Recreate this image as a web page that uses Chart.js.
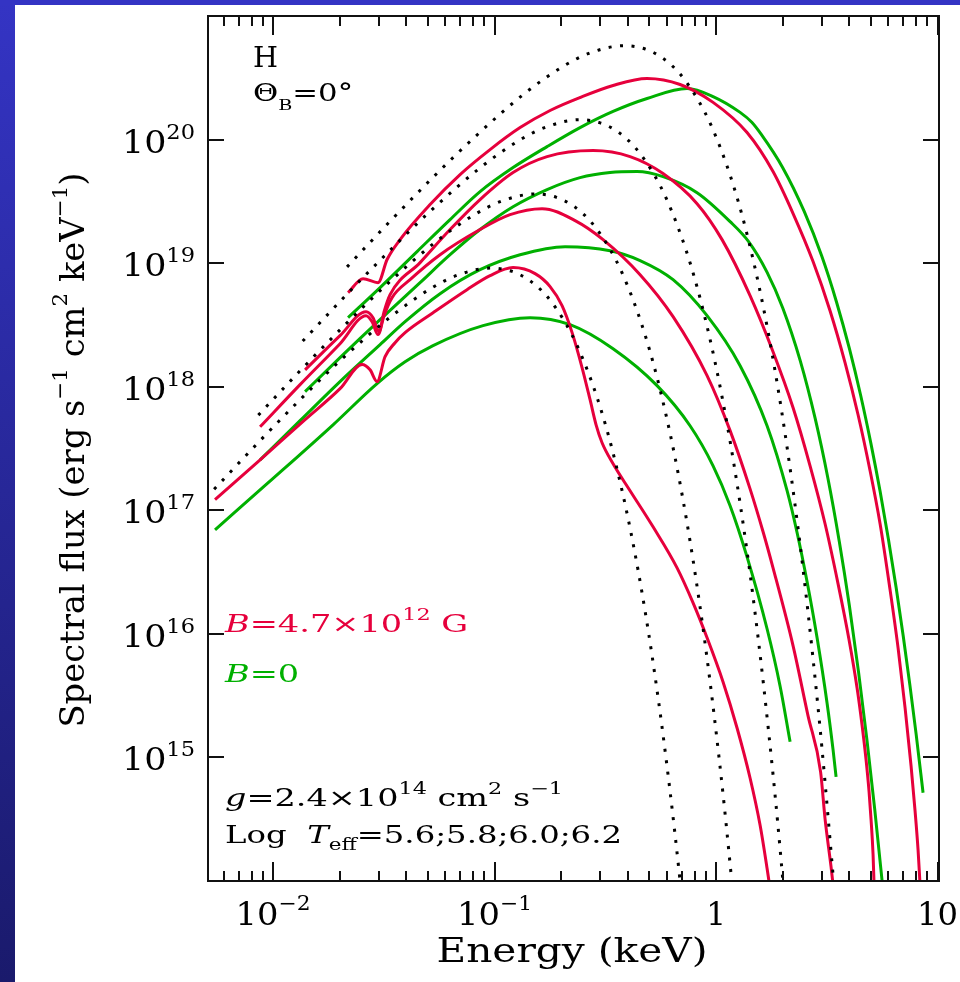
<!DOCTYPE html>
<html><head><meta charset="utf-8">
<script src="https://cdn.jsdelivr.net/npm/chart.js@4/dist/chart.umd.min.js"></script>
<style>html,body{margin:0;padding:0;background:#fff;overflow:hidden}canvas{display:block}</style>
</head><body>
<canvas id="c" width="960" height="982" style="width:960px;height:982px"></canvas>
<script>
// ---- axis ranges and ticks ----
const X_MIN = 0.005085, X_MAX = 10.15, Y_MIN = 1e14, Y_MAX = 1e21;
const xMajorTicks = [0.01, 0.1, 1, 10];
const xTickBase = ['10', '10', '1', '10'];
const xTickExp = ['\u22122', '\u22121', '', ''];
const xMinorTicks = [0.006, 0.007, 0.008, 0.009, 0.02, 0.03, 0.04, 0.05, 0.06, 0.07, 0.08, 0.09,
  0.2, 0.3, 0.4, 0.5, 0.6, 0.7, 0.8, 0.9, 2, 3, 4, 5, 6, 7, 8, 9];
const yMajorTicks = [1e15, 1e16, 1e17, 1e18, 1e19, 1e20];
const yTickBase = ['10', '10', '10', '10', '10', '10'];
const yTickExp = ['15', '16', '17', '18', '19', '20'];

// ---- blackbody (dotted), log Teff = 5.6, 5.8, 6.0, 6.2 ----
const bb56E = [0.00542, 0.00857, 0.01371, 0.02057, 0.03428, 0.05142, 0.06856, 0.09667, 0.1200, 0.1440, 0.1714, 0.2057, 0.2400, 0.2914, 0.3428, 0.4114, 0.4799, 0.5485, 0.6170, 0.6856, 0.7542];
const bb56F = [1.48e17, 3.53e17, 8.36e17, 1.69e18, 3.73e18, 6.22e18, 8.04e18, 9.12e18, 8.57e18, 7.24e18, 5.45e18, 3.44e18, 2.01e18, 8.02e17, 2.91e17, 6.81e16, 1.47e16, 2.96e15, 5.70e14, 1.06e14, 1.91e13];
const bb58E = [0.00858, 0.01358, 0.02173, 0.0326, 0.05433, 0.0815, 0.1087, 0.1532, 0.1902, 0.2282, 0.2717, 0.326, 0.3803, 0.4618, 0.5433, 0.652, 0.7606, 0.8693, 0.978, 1.0866, 1.195];
const bb58F = [5.89e17, 1.41e18, 3.33e18, 6.71e18, 1.49e19, 2.48e19, 3.20e19, 3.63e19, 3.41e19, 2.88e19, 2.17e19, 1.37e19, 8.00e18, 3.19e18, 1.16e18, 2.71e17, 5.83e16, 1.18e16, 2.27e15, 4.22e14, 7.59e13];
const bb60E = [0.01361, 0.02154, 0.03447, 0.0517, 0.08617, 0.1293, 0.1723, 0.2430, 0.3016, 0.3619, 0.4309, 0.517, 0.6032, 0.7324, 0.8617, 1.034, 1.206, 1.379, 1.551, 1.723, 1.896, 2.154];
const bb60F = [2.34e18, 5.60e18, 1.32e19, 2.67e19, 5.92e19, 9.86e19, 1.27e20, 1.45e20, 1.36e20, 1.15e20, 8.63e19, 5.46e19, 3.18e19, 1.27e19, 4.61e18, 1.08e18, 2.32e17, 4.69e16, 9.04e15, 1.68e15, 3.02e14, 2.21e13];
const bb62E = [0.02158, 0.03414, 0.05463, 0.08194, 0.1366, 0.2049, 0.2731, 0.3851, 0.478, 0.5736, 0.6829, 0.8194, 0.956, 1.161, 1.366, 1.639, 1.912, 2.185, 2.458, 2.731, 3.005, 3.414];
const bb62F = [9.33e18, 2.23e19, 5.27e19, 1.06e20, 2.36e20, 3.93e20, 5.07e20, 5.75e20, 5.41e20, 4.57e20, 3.44e20, 2.17e20, 1.27e20, 5.06e19, 1.84e19, 4.30e18, 9.25e17, 1.87e17, 3.60e16, 6.68e15, 1.20e15, 8.79e13];

// ---- B = 4.7e12 G (red) ----
const r56E = [0.00547, 0.00874, 0.01395, 0.02006, 0.02522, 0.02741, 0.02948, 0.03204, 0.03555, 0.03945, 0.05277, 0.0751, 0.09544, 0.1212, 0.1524, 0.1781, 0.2017, 0.2239, 0.2483, 0.2699, 0.2873, 0.3057, 0.3428, 0.409, 0.5194, 0.6667, 0.7875, 0.9107, 1.0755, 1.244, 1.424, 1.580, 1.699, 1.735];
const r56F = [1.22e17, 2.56e17, 5.41e17, 9.64e17, 1.51e18, 1.37e18, 1.10e18, 1.75e18, 2.27e18, 2.74e18, 3.97e18, 6.10e18, 7.92e18, 9.20e18, 8.22e18, 6.46e18, 4.53e18, 2.74e18, 1.43e18, 7.85e17, 4.92e17, 3.52e17, 2.38e17, 1.44e17, 7.35e16, 3.42e16, 1.78e16, 9.29e15, 4.08e15, 1.73e15, 6.82e14, 2.84e14, 1.27e14, 9.82e13];
const r58E = [0.00874, 0.01324, 0.02006, 0.02629, 0.02799, 0.02979, 0.03171, 0.03445, 0.04155, 0.05675, 0.08601, 0.1175, 0.1639, 0.2310, 0.3089, 0.4539, 0.6396, 0.9107, 1.157, 1.424, 1.630, 1.808, 2.227, 2.602, 2.964, 3.105, 3.305, 3.375];
const r58F = [4.74e17, 1.04e18, 2.23e18, 3.76e18, 3.36e18, 2.64e18, 3.76e18, 5.26e18, 7.35e18, 1.17e19, 1.87e19, 2.47e19, 2.76e19, 2.21e19, 1.55e19, 8.07e18, 3.69e18, 1.23e18, 4.41e17, 1.49e17, 6.70e16, 3.42e16, 8.00e15, 2.17e15, 7.64e14, 3.18e14, 1.30e14, 9.29e13];
const r60E = [0.01395, 0.02006, 0.02629, 0.02828, 0.0301, 0.03171, 0.03375, 0.0461, 0.06297, 0.08601, 0.1212, 0.1726, 0.2785, 0.409, 0.5763, 0.8208, 1.0644, 1.424, 1.808, 2.227, 2.657, 3.105, 3.555, 3.986, 4.330, 4.561, 4.756, 4.907, 5.010, 5.115, 5.168];
const r60F = [1.37e18, 2.59e18, 4.05e18, 3.62e18, 2.79e18, 4.05e18, 5.56e18, 1.01e19, 1.87e19, 3.27e19, 5.41e19, 7.28e19, 8.15e19, 7.28e19, 5.31e19, 3.03e19, 1.55e19, 5.46e18, 1.92e18, 6.76e17, 2.29e17, 7.78e16, 2.54e16, 8.93e15, 3.66e15, 1.83e15, 9.55e14, 5.26e14, 3.12e14, 1.63e14, 9.29e13];
const r62E = [0.02181, 0.02548, 0.02979, 0.03272, 0.03745, 0.05115, 0.06986, 0.09544, 0.1304, 0.1781, 0.2432, 0.3428, 0.4882, 0.6879, 0.9694, 1.380, 1.808, 2.227, 2.741, 3.270, 3.824, 4.376, 4.958, 5.501, 6.104, 6.633, 7.134, 7.592, 7.914, 8.166, 8.337];
const r62F = [5.77e18, 7.48e18, 6.95e18, 1.07e19, 1.55e19, 2.98e19, 5.21e19, 8.30e19, 1.25e20, 1.72e20, 2.19e20, 2.74e20, 3.12e20, 2.79e20, 2.00e20, 1.14e20, 5.51e19, 2.52e19, 1.03e19, 4.12e18, 1.56e18, 5.93e17, 2.09e17, 7.78e16, 2.27e16, 7.71e15, 2.52e15, 8.53e14, 3.69e14, 1.78e14, 9.29e13];

// ---- B = 0 (green) ----
const g56E = [0.00547, 0.0094, 0.01866, 0.02948, 0.03945, 0.05277, 0.0887, 0.1447, 0.2193, 0.3428, 0.5416, 0.763, 0.9694, 1.157, 1.38, 1.699, 1.945, 2.159];
const g56F = [6.95e16, 1.64e17, 4.92e17, 1.06e18, 1.59e18, 2.15e18, 3.12e18, 3.62e18, 3.18e18, 2.03e18, 1.02e18, 4.83e17, 2.29e17, 1.09e17, 4.20e16, 1.10e16, 3.79e15, 1.34e15];
const g58E = [0.00874, 0.01324, 0.02006, 0.03042, 0.03945, 0.05675, 0.08601, 0.1304, 0.2081, 0.3322, 0.4539, 0.6396, 0.9107, 1.284, 1.699, 2.092, 2.322, 2.576, 2.858, 3.170, 3.375, 3.482];
const g58F = [2.56e17, 5.31e17, 1.10e18, 2.19e18, 3.36e18, 5.66e18, 8.85e18, 1.17e19, 1.36e19, 1.26e19, 1.05e19, 7.35e18, 3.76e18, 1.48e18, 4.83e17, 1.44e17, 6.58e16, 2.64e16, 9.29e15, 2.76e15, 1.15e15, 6.95e14];
const g60E = [0.01395, 0.02006, 0.03042, 0.0461, 0.06297, 0.08601, 0.1212, 0.1726, 0.2432, 0.3322, 0.4398, 0.5763, 0.8208, 1.157, 1.4, 1.7, 2.0, 2.4, 2.8, 3.2, 3.6, 4.0, 4.4, 4.8, 5.2, 5.6, 5.8];
const g60F = [9.12e17, 1.72e18, 3.49e18, 6.95e18, 1.17e19, 1.87e19, 2.86e19, 3.94e19, 4.92e19, 5.41e19, 5.51e19, 5.01e19, 3.72e19, 2.17e19, 1.50e19, 8.43e18, 4.34e18, 1.62e18, 5.57e17, 1.81e17, 5.60e16, 1.68e16, 4.88e15, 1.38e15, 3.85e14, 1.06e14, 5.48e13];
const g62E = [0.02181, 0.03042, 0.04468, 0.06297, 0.08601, 0.1212, 0.1726, 0.2432, 0.3428, 0.4882, 0.7397, 0.9694, 1.284, 1.45, 1.6, 2.0, 2.5, 3.0, 3.5, 4.0, 4.5, 5.0, 5.5, 6.0, 6.5, 7.0, 7.5, 8.0, 8.6];
const g62F = [3.62e18, 6.34e18, 1.24e19, 2.25e19, 3.79e19, 5.93e19, 8.77e19, 1.25e20, 1.69e20, 2.15e20, 2.59e20, 2.23e20, 1.66e20, 1.38e20, 1.10e20, 5.92e19, 2.62e19, 1.14e19, 4.83e18, 2.03e18, 8.45e17, 3.48e17, 1.43e17, 5.82e16, 2.37e16, 9.55e15, 3.85e15, 1.55e15, 5.18e14];

const RED = '#e6003c', GREEN = '#00b000', BLACK = '#000000';
const SERIF = '"DejaVu Serif", "Liberation Serif", serif';
function F(size, style) { return (style ? style + ' ' : '') + size + 'px ' + SERIF; }

function mk(E, Fl, color, dotted, order) {
  return {
    data: E.map((e, i) => ({ x: e, y: Fl[i] })),
    borderColor: color, backgroundColor: color,
    borderWidth: 3, borderDash: dotted ? [3, 8.5] : [],
    fill: false, order: order, clip: 0,
    pointRadius: 0, cubicInterpolationMode: 'monotone'
  };
}

const datasets = [
  mk(g56E, g56F, GREEN, false, 3), mk(g58E, g58F, GREEN, false, 3),
  mk(g60E, g60F, GREEN, false, 3), mk(g62E, g62F, GREEN, false, 3),
  mk(r56E, r56F, RED, false, 2), mk(r58E, r58F, RED, false, 2),
  mk(r60E, r60F, RED, false, 2), mk(r62E, r62F, RED, false, 2),
  mk(bb56E, bb56F, BLACK, true, 1), mk(bb58E, bb58F, BLACK, true, 1),
  mk(bb60E, bb60F, BLACK, true, 1), mk(bb62E, bb62F, BLACK, true, 1)
];

// rich text helper: segments drawn in sequence, optionally stretched to a target width
function rich(ctx, segs, x, y, align, targetW, rot) {
  let total = 0;
  segs.forEach(s => { ctx.font = s.f; s.w = ctx.measureText(s.t).width; total += s.w; });
  let sx = targetW ? Math.min(1.4, Math.max(0.8, targetW / total)) : 1;
  ctx.save();
  ctx.translate(x, y);
  if (rot) ctx.rotate(rot);
  ctx.scale(sx, 1);
  ctx.textAlign = 'left'; ctx.textBaseline = 'alphabetic';
  let cx = align === 'center' ? -total / 2 : (align === 'right' ? -total : 0);
  segs.forEach(s => {
    ctx.font = s.f; ctx.fillStyle = s.c || '#000';
    ctx.fillText(s.t, cx, s.dy || 0);
    cx += s.w;
  });
  ctx.restore();
}

const framePlugin = {
  id: 'framePlugin',
  beforeDraw(chart) {
    const ctx = chart.ctx, W = chart.width, H = chart.height;
    ctx.save();
    ctx.fillStyle = '#ffffff'; ctx.fillRect(0, 0, W, H);
    const g = ctx.createLinearGradient(0, 0, 0, H);
    g.addColorStop(0, '#3434c4'); g.addColorStop(1, '#1a1a6c');
    ctx.fillStyle = g; ctx.fillRect(0, 0, 15, H);
    ctx.fillStyle = '#3434c4'; ctx.fillRect(0, 0, W, 5);
    ctx.restore();
  },
  afterDatasetsDraw(chart) {
    const ctx = chart.ctx, a = chart.chartArea;
    const xs = chart.scales.x, ys = chart.scales.y;
    ctx.save();
    ctx.strokeStyle = '#111'; ctx.lineWidth = 2;
    ctx.strokeRect(a.left, a.top, a.right - a.left, a.bottom - a.top);
    ctx.beginPath();
    xMajorTicks.forEach(v => {
      const p = Math.round(xs.getPixelForValue(v));
      ctx.moveTo(p, a.top); ctx.lineTo(p, a.top + 19);
      ctx.moveTo(p, a.bottom); ctx.lineTo(p, a.bottom - 19);
    });
    xMinorTicks.forEach(v => {
      const p = Math.round(xs.getPixelForValue(v));
      ctx.moveTo(p, a.top); ctx.lineTo(p, a.top + 10);
      ctx.moveTo(p, a.bottom); ctx.lineTo(p, a.bottom - 10);
    });
    yMajorTicks.forEach(v => {
      const p = Math.round(ys.getPixelForValue(v));
      ctx.moveTo(a.left, p); ctx.lineTo(a.left + 16, p);
      ctx.moveTo(a.right, p); ctx.lineTo(a.right - 16, p);
    });
    ctx.stroke();

    // y tick labels
    yMajorTicks.forEach((v, i) => {
      const p = ys.getPixelForValue(v);
      rich(ctx, [{ t: yTickBase[i], f: F(31) }, { t: yTickExp[i], f: F(20), dy: -14 }], 195, p + 13, 'right', 73);
    });
    // x tick labels
    xMajorTicks.forEach((v, i) => {
      const p = xs.getPixelForValue(v);
      const segs = [{ t: xTickBase[i], f: F(31) }];
      if (xTickExp[i]) segs.push({ t: xTickExp[i], f: F(20), dy: -15 });
      rich(ctx, segs, p, 925, 'center', xTickExp[i] ? 75 : (xTickBase[i].length > 1 ? 41 : 0));
    });
    // axis titles
    rich(ctx, [{ t: 'Energy (keV)', f: F(33) }], 572, 962, 'center', 271);
    rich(ctx, [
      { t: 'Spectral flux (erg s', f: F(33) }, { t: '\u22121', f: F(21), dy: -17 },
      { t: ' cm', f: F(33) }, { t: '2', f: F(21), dy: -17 },
      { t: ' keV', f: F(33) }, { t: '\u22121', f: F(21), dy: -17 },
      { t: ')', f: F(33) }
    ], 84, 450, 'center', 555, -Math.PI / 2);

    // annotations
    rich(ctx, [{ t: 'H', f: F(27) }], 253, 67, 'left', 25);
    rich(ctx, [{ t: '\u0398', f: F(24) }, { t: 'B', f: F(15), dy: 9 }, { t: '=0\u00B0', f: F(24) }], 253, 101, 'left', 100);
    rich(ctx, [
      { t: 'B', f: F(24, 'italic'), c: RED }, { t: '=4.7\u00D710', f: F(24), c: RED },
      { t: '12', f: F(16), dy: -12, c: RED }, { t: ' G', f: F(24), c: RED }
    ], 225, 632, 'left', 248);
    rich(ctx, [{ t: 'B', f: F(24, 'italic'), c: GREEN }, { t: '=0', f: F(24), c: GREEN }], 225, 682, 'left', 75);
    rich(ctx, [
      { t: 'g', f: F(24, 'italic') }, { t: '=2.4\u00D710', f: F(24) }, { t: '14', f: F(16), dy: -12 },
      { t: ' cm', f: F(24) }, { t: '2', f: F(16), dy: -12 }, { t: ' s', f: F(24) }, { t: '\u22121', f: F(16), dy: -12 }
    ], 225, 806, 'left', 338);
    rich(ctx, [
      { t: 'Log  ', f: F(24) }, { t: 'T', f: F(24, 'italic') }, { t: 'eff', f: F(16), dy: 7 },
      { t: '=5.6;5.8;6.0;6.2', f: F(24) }
    ], 225, 843, 'left', 397);
    ctx.restore();
  }
};

new Chart(document.getElementById('c').getContext('2d'), {
  type: 'line',
  data: { datasets: datasets },
  options: {
    responsive: false, animation: false, devicePixelRatio: 1,
    layout: { padding: { left: 208, right: 21, top: 16, bottom: 101 } },
    plugins: { legend: { display: false }, tooltip: { enabled: false } },
    elements: { point: { radius: 0 }, line: { borderCapStyle: 'butt' } },
    scales: {
      x: { type: 'logarithmic', min: X_MIN, max: X_MAX, display: false },
      y: { type: 'logarithmic', min: Y_MIN, max: Y_MAX, display: false }
    }
  },
  plugins: [framePlugin]
});
</script>
</body></html>
